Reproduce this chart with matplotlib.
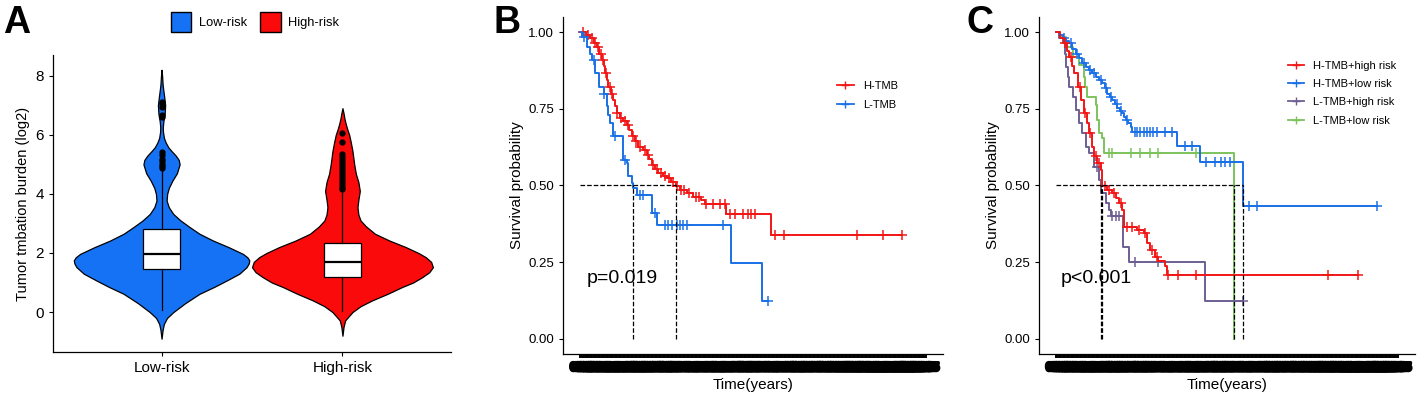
import numpy as np
import matplotlib
matplotlib.use('Agg')
import matplotlib.pyplot as plt
import matplotlib.patheffects as pe
from matplotlib.patches import Patch
from matplotlib.lines import Line2D

plt.rcParams['font.family'] = ['Liberation Sans', 'DejaVu Sans']

# ---- panel A: violin outlines (y value, half width)
groups = ['Low-risk', 'High-risk']
group_colors = ['#1672F4', '#FA0A0A']

low_y = [-0.9, -0.6, -0.4, -0.2, 0.0, 0.3, 0.62, 0.85, 1.07, 1.3, 1.52, 1.65, 1.75, 1.85, 1.97,
         2.2, 2.42, 2.65, 2.87, 3.1, 3.32, 3.55, 3.77, 4.0, 4.2, 4.45, 4.7, 5.0, 5.15, 5.3,
         5.45, 5.58, 5.75, 5.9, 6.1, 6.25, 6.45, 6.7, 7.0, 7.27, 7.5, 7.7, 8.0, 8.2]
low_w = [0.0, 0.006, 0.013, 0.03, 0.065, 0.13, 0.21, 0.29, 0.36, 0.43, 0.47, 0.482, 0.485, 0.475, 0.45,
         0.37, 0.285, 0.21, 0.157, 0.105, 0.065, 0.04, 0.028, 0.031, 0.04, 0.06, 0.085, 0.10, 0.095, 0.078,
         0.055, 0.037, 0.022, 0.013, 0.008, 0.007, 0.01, 0.017, 0.02, 0.015, 0.01, 0.006, 0.003, 0.0]

high_y = [-0.8, -0.5, -0.28, 0.0, 0.2, 0.4, 0.62, 0.85, 1.0, 1.18, 1.35, 1.52, 1.7, 1.86, 2.0,
          2.2, 2.42, 2.65, 2.9, 3.1, 3.3, 3.55, 3.8, 4.1, 4.4, 4.68, 5.0, 5.46, 5.75, 6.0,
          6.2, 6.37, 6.55, 6.7, 6.9]
high_w = [0.0, 0.006, 0.015, 0.055, 0.1, 0.165, 0.25, 0.33, 0.39, 0.44, 0.48, 0.50, 0.49, 0.46, 0.42,
          0.35, 0.26, 0.18, 0.13, 0.10, 0.088, 0.083, 0.088, 0.096, 0.088, 0.074, 0.065, 0.055, 0.046, 0.037,
          0.026, 0.018, 0.011, 0.007, 0.0]

# box statistics
box_q1 = [1.46, 1.18]
box_med = [1.95, 1.69]
box_q3 = [2.82, 2.34]
whisk_lo = [0.08, 0.05]
whisk_hi = [4.85, 4.08]
low_out = [4.88, 4.95, 5.02, 5.1, 5.18, 5.3, 5.42, 6.6, 6.68, 6.95, 7.05, 7.12]
high_out = [4.15, 4.25, 4.35, 4.45, 4.55, 4.65, 4.75, 4.85, 4.95, 5.05, 5.15, 5.25, 5.35, 5.75, 6.05]

# ---- panel B: Kaplan-Meier steps (time in years, survival after drop)
b_h_t = [0, 0.2, 0.375, 0.5, 0.625, 0.72, 0.81, 0.88, 0.94, 1.0, 1.06, 1.15, 1.25, 1.31, 1.375, 1.5,
         1.6, 1.75, 1.85, 1.94, 2.05, 2.19, 2.35, 2.5, 2.6, 2.69, 2.8, 2.94, 3.1, 3.25, 3.4, 3.59,
         3.75, 4.0, 4.25, 4.56, 4.69, 5.5, 7.19]
b_h_s = [1.0, 0.99, 0.98, 0.965, 0.953, 0.93, 0.91, 0.89, 0.866, 0.845, 0.823, 0.80, 0.78, 0.758, 0.736, 0.72,
         0.71, 0.698, 0.68, 0.66, 0.645, 0.627, 0.615, 0.60, 0.585, 0.567, 0.555, 0.54, 0.53, 0.524, 0.512, 0.498,
         0.486, 0.475, 0.464, 0.453, 0.439, 0.407, 0.337]
b_h_c = [0.1, 0.3, 0.45, 0.55, 0.68, 0.78, 0.85, 0.97, 1.1, 1.2, 1.4, 1.55, 1.68, 1.8, 2.0, 2.1, 2.25,
         2.45, 2.55, 2.75, 2.9, 3.05, 3.2, 3.35, 3.5, 3.65, 3.8, 3.9, 4.1, 4.35, 4.45, 4.75, 5.0, 5.25,
         5.44, 5.63, 5.81, 6.13, 6.31, 6.44, 6.56, 7.31, 7.65, 10.4, 11.4, 12.1]

b_l_t = [0, 0.05, 0.25, 0.35, 0.44, 0.56, 0.69, 0.875, 1.0, 1.06, 1.125, 1.25, 1.625, 1.75, 1.81, 1.94,
         2.0, 2.125, 2.69, 2.875, 5.69, 6.85]
b_l_s = [1.0, 0.985, 0.953, 0.93, 0.91, 0.866, 0.823, 0.80, 0.758, 0.73, 0.703, 0.66, 0.584, 0.573, 0.53, 0.508,
         0.491, 0.47, 0.41, 0.372, 0.247, 0.124]
b_l_c = [0.15, 0.5, 0.9, 1.31, 1.7, 2.25, 2.375, 2.8, 3.19, 3.31, 3.44, 3.625, 3.75, 3.875, 4.0, 5.375, 7.06]

# ---- panel C
c_hh_t = [0, 0.15, 0.31, 0.4, 0.5, 0.6, 0.69, 0.82, 0.94, 1.07, 1.19, 1.26, 1.38, 1.44, 1.57, 1.70,
          1.76, 1.95, 2.14, 2.26, 2.39, 2.51, 2.58, 3.08, 3.33, 3.45, 3.58, 3.77, 3.89, 4.15, 4.21]
c_hh_s = [1.0, 0.98, 0.964, 0.94, 0.92, 0.89, 0.866, 0.823, 0.78, 0.736, 0.703, 0.67, 0.627, 0.595, 0.573, 0.551,
          0.497, 0.486, 0.475, 0.459, 0.442, 0.421, 0.366, 0.355, 0.345, 0.312, 0.29, 0.268, 0.252, 0.236, 0.209]
c_hh_c = [0.35, 0.55, 0.9, 1.1, 1.3, 1.5, 1.65, 1.85, 2.0, 2.2, 2.45, 2.7, 2.9, 3.15, 3.4, 3.65, 3.85,
          4.27, 4.65, 5.34, 10.36, 11.5]

c_hl_t = [0, 0.12, 0.25, 0.38, 0.5, 0.62, 0.75, 0.88, 1.0, 1.13, 1.26, 1.38, 1.51, 1.63, 1.76, 1.85,
          1.95, 2.05, 2.14, 2.24, 2.33, 2.42, 2.51, 2.58, 2.64, 2.74, 2.83, 2.89, 4.59, 5.47, 7.12]
c_hl_s = [1.0, 0.99, 0.98, 0.972, 0.964, 0.947, 0.93, 0.915, 0.90, 0.888, 0.877, 0.866, 0.855, 0.845, 0.834, 0.817,
          0.80, 0.79, 0.78, 0.766, 0.752, 0.744, 0.736, 0.725, 0.714, 0.703, 0.692, 0.676, 0.629, 0.576, 0.432]
c_hl_c = [0.3, 0.55, 0.8, 1.05, 1.3, 1.45, 1.7, 1.9, 2.1, 2.3, 2.45, 2.7, 3.0, 3.08, 3.2, 3.33, 3.45,
          3.58, 3.7, 3.83, 4.15, 4.4, 4.9, 5.15, 5.72, 6.03, 6.28, 6.41, 6.6, 7.35, 7.64, 12.19]

c_lh_t = [0, 0.1, 0.25, 0.32, 0.38, 0.44, 0.50, 0.63, 0.75, 0.88, 1.0, 1.13, 1.26, 1.44, 1.63, 1.70,
          1.88, 2.01, 2.07, 2.55, 2.79, 5.68]
c_lh_s = [1.0, 0.98, 0.964, 0.93, 0.888, 0.855, 0.823, 0.79, 0.747, 0.703, 0.67, 0.627, 0.605, 0.562, 0.518, 0.475,
          0.442, 0.421, 0.40, 0.30, 0.25, 0.124]
c_lh_c = [1.55, 2.14, 2.26, 2.39, 3.02, 3.89, 7.12]

c_ll_t = [0, 0.13, 0.38, 0.63, 0.88, 1.07, 1.1, 1.19, 1.51, 1.57, 1.63, 1.76, 1.82, 6.78]
c_ll_s = [1.0, 0.986, 0.953, 0.92, 0.893, 0.855, 0.823, 0.79, 0.763, 0.714, 0.67, 0.654, 0.605, 0.0]
c_ll_c = [2.01, 2.14, 2.83, 3.2, 3.58, 3.89, 5.34]

km_red = '#F21616'
km_blue = '#1A70E6'
km_purple = '#6E5F93'
km_green = '#7CC35C'


def surv_at(t_steps, s_steps, x):
    idx = np.searchsorted(t_steps, x, side='right') - 1
    return np.array(s_steps)[idx]


def draw_km(ax, t_steps, s_steps, cens, color):
    end = max(max(cens), t_steps[-1])
    xs = list(t_steps) + [end]
    ys = list(s_steps) + [s_steps[-1]]
    ax.step(xs, ys, where='post', color=color, lw=1.4, zorder=3)
    ax.plot(cens, surv_at(t_steps, s_steps, cens), '+', color=color, ms=6.5, mew=1.1, zorder=3)


def median_time(t_steps, s_steps):
    for t, s in zip(t_steps, s_steps):
        if s <= 0.5:
            return t
    return None


def style_km(ax):
    ax.set_xlim(-0.65, 13.65)
    ax.set_ylim(-0.05, 1.05)
    ax.set_yticks([0, 0.25, 0.5, 0.75, 1.0])
    ax.set_yticklabels(['0.00', '0.25', '0.50', '0.75', '1.00'], fontsize=9.5)
    # very dense time ticks, as in the original (they merge into a black band)
    xt = np.arange(0, 13.001, 0.05)
    ax.set_xticks(xt)
    ax.set_xticklabels([f'{v:g}' for v in xt], fontsize=8.5, fontweight='bold')
    for lab in ax.get_xticklabels():
        lab.set_path_effects([pe.withStroke(linewidth=2.2, foreground='black')])
    ax.tick_params(axis='x', length=3, width=1.4, pad=2.5)
    ax.tick_params(axis='y', length=3, width=0.8)
    ax.set_xlabel('Time(years)', fontsize=11, labelpad=3)
    ax.set_ylabel('Survival probability', fontsize=11, labelpad=3)
    for sp in ['top', 'right']:
        ax.spines[sp].set_visible(False)
    for sp in ['left', 'bottom']:
        ax.spines[sp].set_linewidth(0.9)


fig = plt.figure(figsize=(14.22, 3.99), dpi=100)

# ---------------- A
axA = fig.add_axes([53 / 1422, 1 - 352 / 399, 398 / 1422, 297 / 399])
profiles = [(low_y, low_w), (high_y, high_w)]
for i, (py, pw) in enumerate(profiles):
    cx = i + 1
    pw = np.array(pw)
    axA.fill_betweenx(py, cx - pw, cx + pw, facecolor=group_colors[i], edgecolor='black', lw=0.9, zorder=2)

stats = []
for i in range(2):
    stats.append(dict(med=box_med[i], q1=box_q1[i], q3=box_q3[i], whislo=whisk_lo[i], whishi=whisk_hi[i],
                      fliers=[low_out, high_out][i]))
axA.bxp(stats, positions=[1, 2], widths=0.2, patch_artist=True, showcaps=False, zorder=3,
        boxprops=dict(facecolor='white', edgecolor='black', lw=0.9),
        medianprops=dict(color='black', lw=1.6),
        whiskerprops=dict(color='black', lw=0.9),
        flierprops=dict(marker='o', markerfacecolor='black', markeredgecolor='black', markersize=3.5))
axA.set_xlim(0.4, 2.6)
axA.set_ylim(-1.35, 8.7)
axA.set_xticks([1, 2])
axA.set_xticklabels(groups, fontsize=11)
axA.set_yticks([0, 2, 4, 6, 8])
axA.tick_params(axis='y', labelsize=11, length=3, width=0.8)
axA.tick_params(axis='x', length=3, width=0.8)
axA.set_ylabel('Tumor tmbation burden (log2)', fontsize=10.5, labelpad=4)
for sp in ['top', 'right']:
    axA.spines[sp].set_visible(False)
for sp in ['left', 'bottom']:
    axA.spines[sp].set_linewidth(0.9)
fig.legend(handles=[Patch(facecolor=c, edgecolor='black', label=g) for g, c in zip(groups, group_colors)],
           loc='center', bbox_to_anchor=(255 / 1422, 1 - 22 / 399), ncol=2, frameon=False, fontsize=9.3,
           handlelength=1.6, handleheight=2.0, columnspacing=1.0, handletextpad=0.6)

# ---------------- B
axB = fig.add_axes([563 / 1422, 1 - 354 / 399, 380 / 1422, 337 / 399])
draw_km(axB, b_h_t, b_h_s, b_h_c, km_red)
draw_km(axB, b_l_t, b_l_s, b_l_c, km_blue)
meds_b = [median_time(b_h_t, b_h_s), median_time(b_l_t, b_l_s)]
axB.plot([0, max(meds_b)], [0.5, 0.5], ls='--', color='black', lw=0.9, zorder=4)
for m in meds_b:
    axB.plot([m, m], [0, 0.5], ls='--', color='black', lw=0.9, zorder=4)
axB.text(0.25, 0.198, 'p=0.019', fontsize=14, va='center')
style_km(axB)
axB.legend(handles=[Line2D([], [], color=km_red, marker='+', ms=6, lw=1.3, label='H-TMB'),
                    Line2D([], [], color=km_blue, marker='+', ms=6, lw=1.3, label='L-TMB')],
           loc='upper left', bbox_to_anchor=(0.695, 0.84), frameon=False, fontsize=8,
           handlelength=1.5, labelspacing=0.8, handletextpad=0.8)

# ---------------- C
axC = fig.add_axes([1039 / 1422, 1 - 354 / 399, 376 / 1422, 337 / 399])
curves_c = [(c_hh_t, c_hh_s, c_hh_c, km_red, 'H-TMB+high risk'),
            (c_hl_t, c_hl_s, c_hl_c, km_blue, 'H-TMB+low risk'),
            (c_lh_t, c_lh_s, c_lh_c, km_purple, 'L-TMB+high risk'),
            (c_ll_t, c_ll_s, c_ll_c, km_green, 'L-TMB+low risk')]
for t, s, c, col, lab in curves_c[::-1]:
    draw_km(axC, t, s, c, col)
meds_c = [median_time(t, s) for t, s, _, _, _ in curves_c]
axC.plot([0, max(meds_c)], [0.5, 0.5], ls='--', color='black', lw=0.9, zorder=4)
for m in meds_c:
    axC.plot([m, m], [0, 0.5], ls='--', color='black', lw=0.9, zorder=4)
axC.text(0.19, 0.198, 'p<0.001', fontsize=14, va='center')
style_km(axC)
axC.legend(handles=[Line2D([], [], color=col, marker='+', ms=6, lw=1.3, label=lab)
                    for _, _, _, col, lab in curves_c],
           loc='upper left', bbox_to_anchor=(0.635, 0.9), frameon=False, fontsize=8,
           handlelength=1.5, labelspacing=0.75, handletextpad=0.8)

# panel letters
for x, letter in [(3, 'A'), (493, 'B'), (967, 'C')]:
    fig.text(x / 1422, 1 - 33 / 399, letter, fontsize=27, fontweight='bold', va='baseline', ha='left')

fig.savefig('out.png', dpi=100)
